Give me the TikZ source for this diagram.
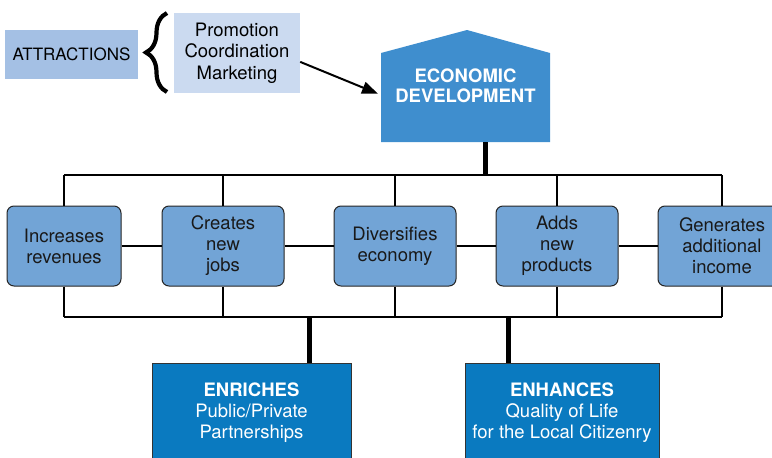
\documentclass[tikz,border=0pt]{standalone}
\usepackage{fontspec}
\setmainfont{TeX Gyre Heros}
\usetikzlibrary{arrows.meta,decorations.pathreplacing}

\definecolor{attrblue}{HTML}{A4C0E4}
\definecolor{promoblue}{HTML}{CBDAF0}
\definecolor{econblue}{HTML}{3F8ECE}
\definecolor{boxblue}{HTML}{72A4D6}
\definecolor{deepblue}{HTML}{0A7AC0}

\begin{document}
\begin{tikzpicture}[x=1pt,y=-1pt,
    benefit/.style={draw=black!85,line width=1,fill=boxblue,rounded corners=7pt,
      minimum height=80pt,inner sep=0pt,align=center,text=black!90,
      font=\fontsize{18.5}{21}\selectfont},
    result/.style={draw=black!80,line width=1,fill=deepblue,text=white,
      minimum height=99pt,inner sep=0pt,align=center,
      font=\fontsize{18.5}{21}\selectfont},
    link/.style={line width=1.6},
    stem/.style={line width=5}]

    \clip (0,0) rectangle (772,458);

    % top left
    \node[fill=attrblue,minimum width=133pt,minimum height=49pt,inner sep=0pt,
      font=\fontsize{17}{20}\selectfont] (attr) at (71.5,54.5) {ATTRACTIONS};

    \draw[line width=4.2,decorate,decoration={brace,amplitude=21pt}]
      (167,92) -- (167,13);

    \node[fill=promoblue,minimum width=126pt,minimum height=80pt,inner sep=0pt,
      align=center,font=\fontsize{18.5}{21.5}\selectfont] (promo) at (237,53)
      {Promotion\\Coordination\\Marketing};

    % house
    \fill[econblue] (381,142) -- (381,53) -- (467,30) -- (550,53) -- (550,142) -- cycle;

    \node[minimum width=169pt,minimum height=112pt,inner sep=0pt,align=center,
      text=white,font=\fontsize{18.5}{20}\selectfont\bfseries] (econ) at (465.5,86)
      {ECONOMIC\\DEVELOPMENT};

    \draw[line width=2,-{Triangle[length=16pt,width=12pt]},shorten >=3pt]
      (promo.-8) -- (econ.186);

    % middle row
    \node[benefit,minimum width=114pt] (inc) at (64,246) {Increases\\revenues};
    \node[benefit,minimum width=122pt] (jobs) at (223,246) {Creates\\new\\jobs};
    \node[benefit,minimum width=122pt] (div) at (395,246) {Diversifies\\economy};
    \node[benefit,minimum width=122pt] (prod) at (557,246) {Adds\\new\\products};
    \node[benefit,minimum width=128pt] (gen) at (722,246) {Generates\\additional\\income};

    \coordinate (top) at (0,175);
    \coordinate (bot) at (0,317);

    \draw[link] (inc.north |- top) -- (gen.north |- top);
    \draw[link] (inc.south |- bot) -- (gen.south |- bot);

    \foreach \b in {inc,jobs,div,prod,gen} {
      \draw[link] (\b.north) -- (\b.north |- top);
      \draw[link] (\b.south) -- (\b.south |- bot);
    }

    \foreach \a/\b in {inc/jobs,jobs/div,div/prod,prod/gen}
      \draw[link] (\a) -- (\b);

    \draw[stem] ([xshift=19.5pt]econ.south) -- ([xshift=19.5pt]econ.south |- top);

    % bottom row
    \node[result,minimum width=199pt] (enr) at (251.5,412.5)
      {\textbf{ENRICHES}\\Public/Private\\Partnerships};
    \node[result,minimum width=194pt] (enh) at (562,412.5)
      {\textbf{ENHANCES}\\Quality of Life\\for the Local Citizenry};

    \draw[stem] ([xshift=57.5pt]enr.north) -- ([xshift=57.5pt]enr.north |- bot);
    \draw[stem] ([xshift=-54pt]enh.north) -- ([xshift=-54pt]enh.north |- bot);

\end{tikzpicture}
\end{document}
